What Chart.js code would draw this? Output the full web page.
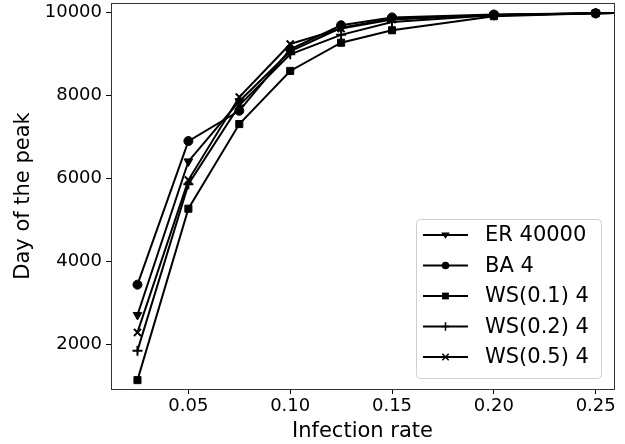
<!DOCTYPE html>
<html>
<head>
<meta charset="utf-8">
<script src="https://cdn.jsdelivr.net/npm/chart.js@4/dist/chart.umd.min.js"></script>
<style>
  html, body { margin: 0; padding: 0; background: #fff; }
  #wrap { width: 625px; height: 444px; }
</style>
</head>
<body>
<div id="wrap"><canvas id="peakChart" width="625" height="444"></canvas></div>
<script>
const rates = [0.025, 0.05, 0.075, 0.1, 0.125, 0.15, 0.2, 0.25, 0.3];

const erPeak   = [2700, 6400, 7850, 9050, 9620, 9840, 9930, 9970, 9990];
const baPeak   = [3430, 6890, 7620, 9100, 9680, 9870, 9940, 9970, 9990];
const ws01Peak = [1130, 5260, 7300, 8580, 9260, 9560, 9900, 9970, 9990];
const ws02Peak = [1840, 5850, 7750, 8980, 9450, 9760, 9920, 9970, 9990];
const ws05Peak = [2280, 5950, 7950, 9230, 9600, 9820, 9930, 9970, 9990];

const seriesNames = ["ER 40000", "BA 4", "WS(0.1) 4", "WS(0.2) 4", "WS(0.5) 4"];
const xTicks = [0.05, 0.10, 0.15, 0.20, 0.25];
const yTicks = [2000, 4000, 6000, 8000, 10000];

const markers = [
  { style: "triangle", rotation: 180, radius: 5 },
  { style: "circle", rotation: 0, radius: 4.5 },
  { style: "rect", rotation: 0, radius: 5 },
  { style: "cross", rotation: 0, radius: 5 },
  { style: "crossRot", rotation: 0, radius: 5 },
];

const allSeries = [erPeak, baPeak, ws01Peak, ws02Peak, ws05Peak];

const datasets = allSeries.map((vals, i) => ({
  label: seriesNames[i],
  data: vals.map((v, j) => ({ x: rates[j], y: v })),
  borderColor: "#000",
  backgroundColor: "#000",
  borderWidth: 2,
  pointStyle: markers[i].style,
  pointRotation: markers[i].rotation,
  pointRadius: markers[i].radius,
  pointBorderWidth: markers[i].style.startsWith("cross") ? 2 : 1,
  pointHoverRadius: markers[i].radius,
  tension: 0,
  fill: false,
}));

function drawMarker(ctx, m, x, y) {
  ctx.save();
  ctx.fillStyle = "#000";
  ctx.strokeStyle = "#000";
  ctx.lineWidth = m.style.startsWith("cross") ? 1.5 : 1;
  const r = m.radius * 0.85;
  ctx.beginPath();
  if (m.style === "circle") {
    ctx.arc(x, y, r, 0, Math.PI * 2);
    ctx.fill();
  } else if (m.style === "rect") {
    ctx.rect(x - r * 0.8, y - r * 0.8, r * 1.6, r * 1.6);
    ctx.fill();
  } else if (m.style === "triangle") {
    ctx.moveTo(x - r, y - r * 0.6);
    ctx.lineTo(x + r, y - r * 0.6);
    ctx.lineTo(x, y + r * 0.9);
    ctx.closePath();
    ctx.fill();
  } else if (m.style === "cross") {
    ctx.moveTo(x - r, y); ctx.lineTo(x + r, y);
    ctx.moveTo(x, y - r); ctx.lineTo(x, y + r);
    ctx.stroke();
  } else {
    const d = r * 0.75;
    ctx.moveTo(x - d, y - d); ctx.lineTo(x + d, y + d);
    ctx.moveTo(x - d, y + d); ctx.lineTo(x + d, y - d);
    ctx.stroke();
  }
  ctx.restore();
}

// frame round the plot + legend box in lower right, drawn like matplotlib
const framePlugin = {
  id: "frameAndLegend",
  afterDraw(chart) {
    const { ctx, chartArea: a } = chart;
    ctx.save();
    ctx.strokeStyle = "#333";
    ctx.lineWidth = 1;
    ctx.strokeRect(a.left + 0.5, a.top + 0.5, a.right - a.left, a.bottom - a.top);

    // legend
    const boxX = 416, boxY = 219, boxW = 185, boxH = 159;
    ctx.fillStyle = "rgba(255,255,255,0.8)";
    ctx.strokeStyle = "#d0d0d0";
    ctx.beginPath();
    ctx.roundRect(boxX + 0.5, boxY + 0.5, boxW, boxH, 4);
    ctx.fill();
    ctx.stroke();

    ctx.font = "21px 'DejaVu Sans'";
    ctx.textBaseline = "middle";
    ctx.textAlign = "left";
    seriesNames.forEach((name, i) => {
      const y = 235 + i * 30.5;
      ctx.strokeStyle = "#000";
      ctx.lineWidth = 2;
      ctx.beginPath();
      ctx.moveTo(423, y);
      ctx.lineTo(468, y);
      ctx.stroke();
      drawMarker(ctx, markers[i], 445.5, y);
      ctx.fillStyle = "#000";
      ctx.fillText(name, 485, y + 1);
    });
    ctx.restore();
  },
};

new Chart(document.getElementById("peakChart").getContext("2d"), {
  type: "line",
  data: { datasets },
  options: {
    responsive: false,
    animation: false,
    layout: { autoPadding: false, padding: { left: 0, top: 3, right: 11, bottom: 0 } },
    plugins: {
      legend: { display: false },
      tooltip: { enabled: false },
    },
    scales: {
      x: {
        type: "linear",
        min: 0.012,
        max: 0.259,
        afterBuildTicks: (scale) => { scale.ticks = xTicks.map((v) => ({ value: v })); },
        afterFit: (scale) => { scale.height = 55; scale.paddingLeft = 0; scale.paddingRight = 0; },
        ticks: {
          color: "#000",
          font: { family: "DejaVu Sans", size: 18 },
          padding: 2,
          maxRotation: 0,
          callback: (v) => Number(v).toFixed(2),
        },
        grid: { display: true, drawOnChartArea: false, tickLength: 5, color: "#000" },
        border: { display: false },
        title: {
          display: true,
          text: "Infection rate",
          color: "#000",
          font: { family: "DejaVu Sans", size: 21 },
          padding: { top: 2, bottom: 0 },
        },
      },
      y: {
        min: 916,
        max: 10217,
        afterBuildTicks: (scale) => { scale.ticks = yTicks.map((v) => ({ value: v })); },
        afterFit: (scale) => { scale.width = 111; scale.paddingTop = 0; scale.paddingBottom = 0; },
        ticks: {
          color: "#000",
          font: { family: "DejaVu Sans", size: 18 },
          padding: 4,
          callback: (v) => String(v),
        },
        grid: { display: true, drawOnChartArea: false, tickLength: 5, color: "#000" },
        border: { display: false },
        title: {
          display: true,
          text: "Day of the peak",
          color: "#000",
          font: { family: "DejaVu Sans", size: 21 },
          padding: { top: 11, bottom: 0 },
        },
      },
    },
  },
  plugins: [framePlugin],
});
</script>
</body>
</html>
